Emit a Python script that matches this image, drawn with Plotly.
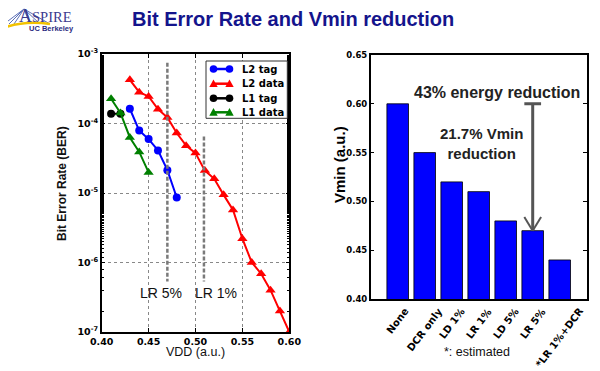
import math
import plotly.graph_objects as go

# ---------------- data ----------------
# Left: BER vs VDD
l2_tag_vdd = [0.43, 0.44, 0.45, 0.46, 0.47, 0.48]
l2_tag_ber = [1.63e-4, 7.9e-5, 5.96e-5, 4.1e-5, 2.13e-5, 8.6e-6]

l2_data_vdd = [0.43, 0.44, 0.45, 0.46, 0.47, 0.48, 0.49, 0.50, 0.51, 0.52,
               0.53, 0.54, 0.55, 0.56, 0.57, 0.58, 0.59, 0.60]
l2_data_ber = [4.25e-4, 2.82e-4, 2.45e-4, 1.61e-4, 1.22e-4, 7.3e-5, 4.8e-5, 3.75e-5,
               2.1e-5, 1.6e-5, 9.4e-6, 5.7e-6, 2.2e-6, 1.0e-6, 6.9e-7, 4.0e-7,
               2.0e-7, 1.0e-7]

l1_tag_vdd = [0.41, 0.42]
l1_tag_ber = [1.38e-4, 1.38e-4]

l1_data_vdd = [0.41, 0.42, 0.43, 0.44, 0.45]
l1_data_ber = [2.27e-4, 1.42e-4, 6.3e-5, 3.9e-5, 1.98e-5]

lr_names = ["LR 5%", "LR 1%"]
lr_vdd = [0.47, 0.509]
lr_top = [7.46e-4, 6.5e-5]
lr_bottom = [5.35e-7, 5.35e-7]

x_ticks = [0.40, 0.45, 0.50, 0.55, 0.60]
x_tick_labels = ["0.40", "0.45", "0.50", "0.55", "0.60"]
y_ticks = [1e-7, 1e-6, 1e-5, 1e-4, 1e-3]
y_tick_labels = ["10<sup>-7</sup>", "10<sup>-6</sup>", "10<sup>-5</sup>",
                 "10<sup>-4</sup>", "10<sup>-3</sup>"]

# Right: Vmin per scheme
schemes = ["None", "DCR only", "LD 1%", "LR 1%", "LD 5%", "LR 5%", "*LR 1%+DCR"]
vmin = [0.60, 0.55, 0.52, 0.51, 0.48, 0.47, 0.44]
vmin_ticks = [0.40, 0.45, 0.50, 0.55, 0.60, 0.65]
vmin_tick_labels = ["0.40", "0.45", "0.50", "0.55", "0.60", "0.65"]

# page body adds an 8px margin; design in window pixels
OFF = 8
W, H = 600 - OFF, 371 - OFF
def px(x):
    return (x - OFF) / W
def py(y):
    return 1 - (y - OFF) / H

BOLD = "DejaVu Sans"
ARIAL = "Liberation Sans, Arial, sans-serif"

fig = go.Figure()

series = [
    ("L2 tag", l2_tag_vdd, l2_tag_ber, "#0000FF", "circle", 8),
    ("L2 data", l2_data_vdd, l2_data_ber, "#FF0000", "triangle-up", 9),
    ("L1 tag", l1_tag_vdd, l1_tag_ber, "#000000", "circle", 8),
    ("L1 data", l1_data_vdd, l1_data_ber, "#008000", "triangle-up", 9),
]
for name, xs, ys, col, sym, sz in series:
    fig.add_trace(go.Scatter(
        x=xs, y=ys, name=name, mode="lines+markers", showlegend=False,
        line=dict(color=col, width=2), marker=dict(symbol=sym, size=sz, color=col),
        xaxis="x", yaxis="y"))

for name, xv, t, b in zip(lr_names, lr_vdd, lr_top, lr_bottom):
    fig.add_trace(go.Scatter(
        x=[xv, xv], y=[t, b], mode="lines", showlegend=False, hoverinfo="skip",
        line=dict(color="#7A7A7A", width=2.5, dash="4px,2px"),
        xaxis="x", yaxis="y"))

fig.add_trace(go.Bar(
    x=list(range(len(schemes))), y=vmin, width=0.8, showlegend=False,
    marker=dict(color="#0000FF", line=dict(color="#000000", width=0.8)),
    xaxis="x2", yaxis="y2"))

# ---------------- layout ----------------
tickfont_l = dict(family=BOLD, size=9.5, color="#000")
fig.update_layout(
    width=W, height=H, autosize=False,
    margin=dict(l=0, r=0, t=0, b=0, pad=0, autoexpand=False),
    paper_bgcolor="white", plot_bgcolor="white",
    showlegend=False,
    xaxis=dict(domain=[px(101.7), px(289.3)], range=[0.40, 0.60], automargin=False,
               tickvals=x_ticks, ticktext=["<b>%s</b>" % t for t in x_tick_labels],
               tickfont=tickfont_l, ticks="inside", ticklen=4, tickcolor="#000",
               showline=True, linecolor="#000", linewidth=1.5, mirror="allticks",
               showgrid=True, gridcolor="#888", griddash="dot", gridwidth=1,
               zeroline=False, anchor="y"),
    yaxis=dict(domain=[py(332), py(54)], type="log", range=[-7, -3], automargin=False,
               tickvals=y_ticks, ticktext=["<b>%s</b>" % t for t in y_tick_labels],
               tickfont=tickfont_l, ticks="inside", ticklen=4, tickcolor="#000",
               minor=dict(ticks="inside", ticklen=2.5, tickcolor="#000", showgrid=False),
               showline=True, linecolor="#000", linewidth=1.5, mirror="allticks",
               showgrid=True, gridcolor="#888", griddash="dot", gridwidth=1,
               zeroline=False, anchor="x"),
    xaxis2=dict(domain=[px(370.7), px(586.7)], range=[-1.0, 7.0], automargin=False,
                showticklabels=False, ticks="",
                showline=True, linecolor="#000", linewidth=1.5, mirror=True,
                showgrid=False, zeroline=False, anchor="y2"),
    yaxis2=dict(domain=[py(299), py(55)], range=[0.40, 0.65], automargin=False,
                tickvals=vmin_ticks, ticktext=["<b>%s</b>" % t for t in vmin_tick_labels],
                tickfont=dict(family=BOLD, size=8.5, color="#000"),
                ticks="inside", ticklen=4, tickcolor="#000",
                showline=True, linecolor="#000", linewidth=1.5, mirror="allticks",
                showgrid=False, zeroline=False, anchor="x2"),
)

ann = []
def note(text, x, y, xref="paper", yref="paper", **kw):
    d = dict(text=text, x=x, y=y, xref=xref, yref=yref, showarrow=False,
             xanchor="center", yanchor="middle")
    d.update(kw)
    ann.append(d)

shapes = []

# title
note("<b>Bit Error Rate and Vmin reduction</b>", px(292.5), py(18.5),
     font=dict(family=ARIAL, size=20, color="#14148C"))
# logo text
note("<span style='font-size:18px'>A</span>SPIRE", px(17), py(16), xanchor="left",
     font=dict(family="Liberation Serif, serif", size=14.5, color="#3B3B8F"))
note("<b>UC Berkeley</b>", px(51.5), py(28),
     font=dict(family=ARIAL, size=7.5, color="#2A2A80"))
# axis titles
note("<b>Bit Error Rate (BER)</b>", px(62), py(184), textangle=-90,
     font=dict(family=ARIAL, size=12, color="#111"))
note("VDD (a.u.)", px(195), py(352), font=dict(family=ARIAL, size=12.5, color="#111"))
note("<b>Vmin (a.u.)</b>", px(339), py(165), textangle=-90,
     font=dict(family=ARIAL, size=15, color="#000"))
# LR labels
for name, xv, sh in zip(lr_names, lr_vdd, [-6, 12]):
    note(name, xv, -6.437, xref="x", yref="y", xshift=sh,
         font=dict(family=ARIAL, size=14, color="#111"))
# category labels (rotated, centred like matplotlib)
for i, s in enumerate(schemes):
    note("<b>%s</b>" % s, i, py(303), xref="x2", yanchor="top", textangle=-53,
         font=dict(family=BOLD, size=10, color="#000"))
note("*: estimated", px(476.7), py(351.7), font=dict(family=ARIAL, size=12.5, color="#111"))
# right annotations
note("<b>43% energy reduction</b>", 3.67, 0.6112, xref="x2", yref="y2",
     font=dict(family=ARIAL, size=16, color="#222"))
note("<b>21.7% Vmin<br>reduction</b>", 3.10, 0.5595, xref="x2", yref="y2",
     font=dict(family=ARIAL, size=15, color="#222"))

# ---- hand-built legend (compact like the original) ----
leg_box = (206, 61, 287.3, 118.3)
shapes.append(dict(type="rect", xref="paper", yref="paper",
                   x0=px(leg_box[0]), x1=px(leg_box[2]), y0=py(leg_box[3]), y1=py(leg_box[1]),
                   line=dict(color="#333", width=1), fillcolor="white", layer="above"))
leg_rows = [69, 83.7, 98.3, 112.3]
sx0, sx1 = 213.5, 229.5
for (name, xs, ys, col, sym, sz), ry in zip(series, leg_rows):
    shapes.append(dict(type="line", xref="paper", yref="paper", layer="above",
                       x0=px(sx0), x1=px(sx1), y0=py(ry), y1=py(ry),
                       line=dict(color=col, width=2.5)))
    for cx in (sx0, sx1):
        if sym == "circle":
            r = 3.8
            shapes.append(dict(type="circle", xref="paper", yref="paper", layer="above",
                               x0=px(cx - r), x1=px(cx + r), y0=py(ry + r), y1=py(ry - r),
                               fillcolor=col, line=dict(color=col, width=0)))
        else:
            h = 4.2
            path = "M %f,%f L %f,%f L %f,%f Z" % (px(cx - h), py(ry + h * 0.8),
                                                  px(cx + h), py(ry + h * 0.8),
                                                  px(cx), py(ry - h * 1.0))
            shapes.append(dict(type="path", xref="paper", yref="paper", layer="above",
                               path=path, fillcolor=col, line=dict(color=col, width=0)))
    note("<b>%s</b>" % name, px(240), py(ry), xanchor="left",
         font=dict(family=BOLD, size=10, color="#000"))

fig.update_layout(annotations=ann)

# arrow from baseline Vmin to LR 5%
i_lr5 = schemes.index("LR 5%")
top_v, bot_v = vmin[0], vmin[i_lr5]
hw = 0.31
head_h = 0.014
arrow_col = "#555555"
shapes += [
    dict(type="line", x0=i_lr5, x1=i_lr5, y0=top_v, y1=bot_v, xref="x2", yref="y2",
         line=dict(color=arrow_col, width=3)),
    dict(type="line", x0=i_lr5 - hw, x1=i_lr5 + hw, y0=top_v, y1=top_v, xref="x2", yref="y2",
         line=dict(color=arrow_col, width=3)),
    dict(type="line", x0=i_lr5 - hw, x1=i_lr5, y0=bot_v + head_h, y1=bot_v, xref="x2", yref="y2",
         line=dict(color=arrow_col, width=2)),
    dict(type="line", x0=i_lr5 + hw, x1=i_lr5, y0=bot_v + head_h, y1=bot_v, xref="x2", yref="y2",
         line=dict(color=arrow_col, width=2)),
]
# logo bridge sketch
for (x0, y0, x1, y1) in [(24, 9, 4, 24), (24, 9, 9, 24), (24, 9, 14, 24), (24, 9, 30, 24),
                         (24, 9, 40, 24), (24, 9, 50, 24)]:
    shapes.append(dict(type="line", x0=px(x0), y0=py(y0), x1=px(x1), y1=py(y1),
                       xref="paper", yref="paper", line=dict(color="#5A6FB8", width=1)))
shapes.append(dict(type="path", xref="paper", yref="paper",
                   path="M %f,%f Q %f,%f %f,%f" % (px(3), py(28), px(25), py(20), px(50), py(24)),
                   line=dict(color="#F2C200", width=2.5)))
fig.update_layout(shapes=shapes)

fig.write_html("out.html")
